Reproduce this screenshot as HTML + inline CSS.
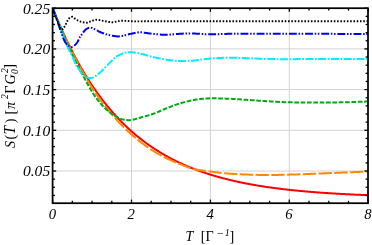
<!DOCTYPE html>
<html><head><meta charset="utf-8"><title>S(T) plot</title>
<style>html,body{margin:0;padding:0;background:#fff;overflow:hidden}svg{display:block;will-change:transform;transform:translateZ(0)}text{font-family:"Liberation Serif","DejaVu Serif",serif;fill:#000}</style></head><body>
<svg width="372" height="245" viewBox="0 0 372 245">
<rect width="372" height="245" fill="#fff"/>
<g stroke="#d2d2d2" stroke-width="1" fill="none"><line x1="131.50" y1="8.2" x2="131.50" y2="203.2"/><line x1="210.40" y1="8.2" x2="210.40" y2="203.2"/><line x1="289.30" y1="8.2" x2="289.30" y2="203.2"/><line x1="52.6" y1="171.00" x2="368.0" y2="171.00"/><line x1="52.6" y1="130.30" x2="368.0" y2="130.30"/><line x1="52.6" y1="89.60" x2="368.0" y2="89.60"/><line x1="52.6" y1="48.90" x2="368.0" y2="48.90"/></g>
<clipPath id="c"><rect x="52.6" y="8.2" width="315.4" height="195.0"/></clipPath>
<g clip-path="url(#c)" fill="none" stroke-linejoin="round">
<path d="M52.60,7.95 L53.10,9.21 L53.60,10.46 L54.10,11.70 L54.60,12.93 L55.10,14.15 L55.60,15.36 L56.10,16.57 L56.60,17.77 L57.10,18.96 L57.60,20.15 L58.10,21.32 L58.60,22.49 L59.10,23.65 L59.60,24.80 L60.10,25.95 L60.60,27.09 L61.10,28.22 L61.60,29.34 L62.10,30.45 L62.60,31.56 L63.10,32.66 L63.60,33.76 L64.10,34.84 L64.60,35.92 L65.10,36.99 L65.60,38.06 L66.10,39.11 L66.60,40.16 L67.10,41.21 L67.60,42.24 L68.10,43.28 L68.60,44.30 L69.10,45.32 L69.60,46.32 L70.10,47.33 L70.60,48.32 L71.10,49.31 L71.60,50.29 L72.10,51.27 L72.60,52.24 L73.10,53.20 L73.60,54.16 L74.10,55.11 L74.60,56.06 L75.10,57.00 L75.60,57.93 L76.10,58.86 L76.60,59.78 L77.10,60.69 L77.60,61.60 L78.10,62.50 L78.60,63.39 L79.10,64.28 L79.60,65.17 L80.10,66.05 L80.60,66.92 L81.10,67.79 L81.60,68.65 L82.10,69.50 L82.60,70.35 L83.10,71.20 L83.60,72.04 L84.10,72.87 L84.60,73.70 L85.10,74.52 L85.60,75.33 L86.10,76.15 L86.60,76.95 L87.10,77.75 L87.60,78.55 L88.10,79.34 L88.60,80.12 L89.10,80.90 L89.60,81.68 L90.10,82.44 L90.60,83.21 L91.10,83.97 L91.60,84.72 L92.10,85.47 L92.60,86.21 L93.10,86.95 L93.60,87.69 L94.10,88.42 L94.60,89.14 L95.10,89.86 L95.60,90.58 L96.10,91.29 L96.60,91.99 L97.10,92.69 L97.60,93.39 L98.10,94.08 L98.60,94.77 L99.10,95.45 L99.60,96.13 L100.10,96.80 L100.60,97.47 L101.10,98.14 L101.60,98.80 L102.10,99.46 L102.60,100.11 L103.10,100.75 L103.60,101.40 L104.10,102.04 L104.60,102.67 L105.10,103.30 L105.60,103.93 L106.10,104.55 L106.60,105.17 L107.10,105.78 L107.60,106.39 L108.10,107.00 L108.60,107.60 L109.10,108.20 L109.60,108.79 L110.10,109.38 L110.60,109.97 L111.10,110.55 L111.60,111.13 L112.10,111.70 L112.60,112.27 L113.10,112.84 L113.60,113.40 L114.10,113.96 L114.60,114.52 L115.10,115.07 L115.60,115.62 L116.10,116.17 L116.60,116.71 L117.10,117.25 L117.60,117.78 L118.10,118.31 L118.60,118.84 L119.10,119.36 L119.60,119.88 L120.10,120.40 L120.60,120.91 L121.10,121.42 L121.60,121.92 L122.10,122.43 L122.60,122.93 L123.10,123.42 L123.60,123.92 L124.10,124.41 L124.60,124.90 L125.10,125.38 L125.60,125.86 L126.10,126.34 L126.60,126.81 L127.10,127.28 L127.60,127.75 L128.10,128.22 L128.60,128.68 L129.10,129.14 L129.60,129.60 L130.10,130.05 L130.60,130.50 L131.10,130.94 L131.60,131.38 L132.10,131.82 L132.60,132.26 L133.10,132.69 L133.60,133.12 L134.10,133.55 L134.60,133.98 L135.10,134.40 L135.60,134.83 L136.10,135.25 L136.60,135.66 L137.10,136.08 L137.60,136.49 L138.10,136.89 L138.60,137.30 L139.10,137.70 L139.60,138.10 L140.10,138.49 L140.60,138.88 L141.10,139.27 L141.60,139.66 L142.10,140.05 L142.60,140.43 L143.10,140.81 L143.60,141.19 L144.10,141.57 L144.60,141.94 L145.10,142.31 L145.60,142.68 L146.10,143.05 L146.60,143.41 L147.10,143.77 L147.60,144.13 L148.10,144.49 L148.60,144.84 L149.10,145.20 L149.60,145.55 L150.10,145.89 L150.60,146.24 L151.10,146.58 L151.60,146.92 L152.10,147.26 L152.60,147.59 L153.10,147.93 L153.60,148.26 L154.10,148.59 L154.60,148.92 L155.10,149.24 L155.60,149.56 L156.10,149.88 L156.60,150.20 L157.10,150.52 L157.60,150.83 L158.10,151.15 L158.60,151.46 L159.10,151.76 L159.60,152.07 L160.10,152.37 L160.60,152.68 L161.10,152.98 L161.60,153.27 L162.10,153.57 L162.60,153.86 L163.10,154.16 L163.60,154.45 L164.10,154.73 L164.60,155.02 L165.10,155.31 L165.60,155.59 L166.10,155.87 L166.60,156.15 L167.10,156.43 L167.60,156.70 L168.10,156.97 L168.60,157.25 L169.10,157.52 L169.60,157.78 L170.10,158.05 L170.60,158.31 L171.10,158.58 L171.60,158.84 L172.10,159.10 L172.60,159.35 L173.10,159.61 L173.60,159.86 L174.10,160.12 L174.60,160.37 L175.10,160.62 L175.60,160.87 L176.10,161.11 L176.60,161.36 L177.10,161.60 L177.60,161.84 L178.10,162.08 L178.60,162.32 L179.10,162.55 L179.60,162.79 L180.10,163.02 L180.60,163.25 L181.10,163.48 L181.60,163.71 L182.10,163.94 L182.60,164.16 L183.10,164.39 L183.60,164.61 L184.10,164.83 L184.60,165.05 L185.10,165.27 L185.60,165.49 L186.10,165.70 L186.60,165.92 L187.10,166.13 L187.60,166.34 L188.10,166.55 L188.60,166.76 L189.10,166.96 L189.60,167.17 L190.10,167.37 L190.60,167.58 L191.10,167.78 L191.60,167.98 L192.10,168.18 L192.60,168.37 L193.10,168.57 L193.60,168.77 L194.10,168.96 L194.60,169.15 L195.10,169.34 L195.60,169.53 L196.10,169.72 L196.60,169.91 L197.10,170.10 L197.60,170.28 L198.10,170.47 L198.60,170.65 L199.10,170.83 L199.60,171.01 L200.10,171.19 L200.60,171.36 L201.10,171.54 L201.60,171.72 L202.10,171.89 L202.60,172.07 L203.10,172.24 L203.60,172.41 L204.10,172.58 L204.60,172.75 L205.10,172.92 L205.60,173.08 L206.10,173.25 L206.60,173.41 L207.10,173.58 L207.60,173.74 L208.10,173.90 L208.60,174.06 L209.10,174.22 L209.60,174.37 L210.10,174.53 L210.60,174.68 L211.10,174.83 L211.60,174.99 L212.10,175.14 L212.60,175.29 L213.10,175.44 L213.60,175.59 L214.10,175.74 L214.60,175.89 L215.10,176.03 L215.60,176.18 L216.10,176.33 L216.60,176.47 L217.10,176.61 L217.60,176.76 L218.10,176.90 L218.60,177.04 L219.10,177.18 L219.60,177.32 L220.10,177.46 L220.60,177.59 L221.10,177.73 L221.60,177.86 L222.10,178.00 L222.60,178.13 L223.10,178.26 L223.60,178.39 L224.10,178.52 L224.60,178.65 L225.10,178.77 L225.60,178.90 L226.10,179.03 L226.60,179.15 L227.10,179.27 L227.60,179.40 L228.10,179.52 L228.60,179.64 L229.10,179.76 L229.60,179.88 L230.10,180.00 L230.60,180.12 L231.10,180.24 L231.60,180.36 L232.10,180.48 L232.60,180.59 L233.10,180.71 L233.60,180.82 L234.10,180.94 L234.60,181.05 L235.10,181.17 L235.60,181.28 L236.10,181.39 L236.60,181.50 L237.10,181.61 L237.60,181.72 L238.10,181.83 L238.60,181.94 L239.10,182.04 L239.60,182.15 L240.10,182.26 L240.60,182.36 L241.10,182.47 L241.60,182.57 L242.10,182.67 L242.60,182.77 L243.10,182.87 L243.60,182.98 L244.10,183.07 L244.60,183.17 L245.10,183.27 L245.60,183.37 L246.10,183.47 L246.60,183.56 L247.10,183.66 L247.60,183.75 L248.10,183.85 L248.60,183.94 L249.10,184.04 L249.60,184.13 L250.10,184.22 L250.60,184.31 L251.10,184.40 L251.60,184.50 L252.10,184.59 L252.60,184.67 L253.10,184.76 L253.60,184.85 L254.10,184.94 L254.60,185.03 L255.10,185.11 L255.60,185.20 L256.10,185.29 L256.60,185.37 L257.10,185.46 L257.60,185.54 L258.10,185.62 L258.60,185.71 L259.10,185.79 L259.60,185.87 L260.10,185.95 L260.60,186.03 L261.10,186.11 L261.60,186.19 L262.10,186.27 L262.60,186.34 L263.10,186.42 L263.60,186.50 L264.10,186.57 L264.60,186.65 L265.10,186.72 L265.60,186.79 L266.10,186.87 L266.60,186.94 L267.10,187.01 L267.60,187.09 L268.10,187.16 L268.60,187.23 L269.10,187.30 L269.60,187.37 L270.10,187.44 L270.60,187.51 L271.10,187.58 L271.60,187.65 L272.10,187.72 L272.60,187.79 L273.10,187.85 L273.60,187.92 L274.10,187.99 L274.60,188.05 L275.10,188.12 L275.60,188.19 L276.10,188.25 L276.60,188.32 L277.10,188.38 L277.60,188.45 L278.10,188.51 L278.60,188.57 L279.10,188.64 L279.60,188.70 L280.10,188.76 L280.60,188.82 L281.10,188.89 L281.60,188.95 L282.10,189.01 L282.60,189.07 L283.10,189.13 L283.60,189.19 L284.10,189.25 L284.60,189.30 L285.10,189.36 L285.60,189.42 L286.10,189.48 L286.60,189.54 L287.10,189.59 L287.60,189.65 L288.10,189.71 L288.60,189.76 L289.10,189.82 L289.60,189.87 L290.10,189.93 L290.60,189.98 L291.10,190.03 L291.60,190.09 L292.10,190.14 L292.60,190.19 L293.10,190.24 L293.60,190.30 L294.10,190.35 L294.60,190.40 L295.10,190.45 L295.60,190.50 L296.10,190.55 L296.60,190.60 L297.10,190.65 L297.60,190.70 L298.10,190.75 L298.60,190.79 L299.10,190.84 L299.60,190.89 L300.10,190.94 L300.60,190.98 L301.10,191.03 L301.60,191.08 L302.10,191.12 L302.60,191.17 L303.10,191.22 L303.60,191.26 L304.10,191.31 L304.60,191.35 L305.10,191.39 L305.60,191.44 L306.10,191.48 L306.60,191.53 L307.10,191.57 L307.60,191.61 L308.10,191.66 L308.60,191.70 L309.10,191.74 L309.60,191.78 L310.10,191.82 L310.60,191.87 L311.10,191.91 L311.60,191.95 L312.10,191.99 L312.60,192.03 L313.10,192.07 L313.60,192.11 L314.10,192.15 L314.60,192.19 L315.10,192.23 L315.60,192.27 L316.10,192.31 L316.60,192.34 L317.10,192.38 L317.60,192.42 L318.10,192.46 L318.60,192.49 L319.10,192.53 L319.60,192.57 L320.10,192.60 L320.60,192.64 L321.10,192.68 L321.60,192.71 L322.10,192.75 L322.60,192.78 L323.10,192.82 L323.60,192.85 L324.10,192.88 L324.60,192.92 L325.10,192.95 L325.60,192.99 L326.10,193.02 L326.60,193.05 L327.10,193.08 L327.60,193.12 L328.10,193.15 L328.60,193.18 L329.10,193.21 L329.60,193.25 L330.10,193.28 L330.60,193.31 L331.10,193.34 L331.60,193.37 L332.10,193.40 L332.60,193.44 L333.10,193.47 L333.60,193.50 L334.10,193.53 L334.60,193.56 L335.10,193.59 L335.60,193.62 L336.10,193.65 L336.60,193.68 L337.10,193.71 L337.60,193.73 L338.10,193.76 L338.60,193.79 L339.10,193.82 L339.60,193.85 L340.10,193.88 L340.60,193.90 L341.10,193.93 L341.60,193.96 L342.10,193.99 L342.60,194.01 L343.10,194.04 L343.60,194.07 L344.10,194.09 L344.60,194.12 L345.10,194.15 L345.60,194.17 L346.10,194.20 L346.60,194.22 L347.10,194.25 L347.60,194.27 L348.10,194.30 L348.60,194.32 L349.10,194.35 L349.60,194.37 L350.10,194.40 L350.60,194.42 L351.10,194.44 L351.60,194.47 L352.10,194.49 L352.60,194.51 L353.10,194.54 L353.60,194.56 L354.10,194.58 L354.60,194.61 L355.10,194.63 L355.60,194.65 L356.10,194.67 L356.60,194.70 L357.10,194.72 L357.60,194.74 L358.10,194.76 L358.60,194.78 L359.10,194.81 L359.60,194.83 L360.10,194.85 L360.60,194.87 L361.10,194.89 L361.60,194.91 L362.10,194.94 L362.60,194.96 L363.10,194.98 L363.60,195.00 L364.10,195.02 L364.60,195.04 L365.10,195.06 L365.60,195.08 L366.10,195.10 L366.60,195.12 L367.10,195.14 L367.60,195.16 L368.10,195.18 L368.20,195.18" stroke="#ff0000" stroke-width="2.0"/>
<path d="M52.60,7.95 L53.10,9.21 L53.60,10.47 L54.10,11.72 L54.60,12.97 L55.10,14.21 L55.60,15.44 L56.10,16.66 L56.60,17.88 L57.10,19.08 L57.60,20.28 L58.10,21.48 L58.60,22.66 L59.10,23.83 L59.60,25.00 L60.10,26.15 L60.60,27.30 L61.10,28.44 L61.60,29.58 L62.10,30.71 L62.60,31.83 L63.10,32.95 L63.60,34.06 L64.10,35.17 L64.60,36.27 L65.10,37.36 L65.60,38.45 L66.10,39.53 L66.60,40.60 L67.10,41.67 L67.60,42.73 L68.10,43.78 L68.60,44.83 L69.10,45.87 L69.60,46.90 L70.10,47.93 L70.60,48.95 L71.10,49.97 L71.60,50.98 L72.10,51.98 L72.60,52.98 L73.10,53.97 L73.60,54.95 L74.10,55.93 L74.60,56.91 L75.10,57.87 L75.60,58.84 L76.10,59.79 L76.60,60.74 L77.10,61.69 L77.60,62.63 L78.10,63.57 L78.60,64.50 L79.10,65.42 L79.60,66.34 L80.10,67.25 L80.60,68.17 L81.10,69.07 L81.60,69.98 L82.10,70.88 L82.60,71.78 L83.10,72.68 L83.60,73.57 L84.10,74.46 L84.60,75.34 L85.10,76.22 L85.60,77.09 L86.10,77.96 L86.60,78.82 L87.10,79.68 L87.60,80.53 L88.10,81.37 L88.60,82.20 L89.10,83.03 L89.60,83.85 L90.10,84.66 L90.60,85.46 L91.10,86.25 L91.60,87.03 L92.10,87.81 L92.60,88.58 L93.10,89.35 L93.60,90.11 L94.10,90.86 L94.60,91.61 L95.10,92.35 L95.60,93.09 L96.10,93.82 L96.60,94.54 L97.10,95.27 L97.60,95.98 L98.10,96.69 L98.60,97.40 L99.10,98.10 L99.60,98.79 L100.10,99.48 L100.60,100.17 L101.10,100.85 L101.60,101.53 L102.10,102.20 L102.60,102.87 L103.10,103.53 L103.60,104.19 L104.10,104.84 L104.60,105.49 L105.10,106.13 L105.60,106.77 L106.10,107.40 L106.60,108.03 L107.10,108.66 L107.60,109.28 L108.10,109.89 L108.60,110.50 L109.10,111.11 L109.60,111.71 L110.10,112.31 L110.60,112.90 L111.10,113.49 L111.60,114.08 L112.10,114.66 L112.60,115.24 L113.10,115.81 L113.60,116.38 L114.10,116.95 L114.60,117.51 L115.10,118.07 L115.60,118.63 L116.10,119.18 L116.60,119.74 L117.10,120.28 L117.60,120.83 L118.10,121.37 L118.60,121.91 L119.10,122.44 L119.60,122.97 L120.10,123.50 L120.60,124.02 L121.10,124.54 L121.60,125.06 L122.10,125.57 L122.60,126.08 L123.10,126.59 L123.60,127.09 L124.10,127.59 L124.60,128.08 L125.10,128.57 L125.60,129.06 L126.10,129.54 L126.60,130.02 L127.10,130.49 L127.60,130.96 L128.10,131.43 L128.60,131.90 L129.10,132.36 L129.60,132.82 L130.10,133.27 L130.60,133.72 L131.10,134.17 L131.60,134.62 L132.10,135.06 L132.60,135.49 L133.10,135.93 L133.60,136.36 L134.10,136.78 L134.60,137.20 L135.10,137.62 L135.60,138.04 L136.10,138.45 L136.60,138.85 L137.10,139.26 L137.60,139.66 L138.10,140.06 L138.60,140.46 L139.10,140.86 L139.60,141.25 L140.10,141.64 L140.60,142.03 L141.10,142.42 L141.60,142.80 L142.10,143.18 L142.60,143.56 L143.10,143.94 L143.60,144.31 L144.10,144.68 L144.60,145.05 L145.10,145.41 L145.60,145.78 L146.10,146.13 L146.60,146.49 L147.10,146.84 L147.60,147.19 L148.10,147.54 L148.60,147.88 L149.10,148.22 L149.60,148.56 L150.10,148.89 L150.60,149.22 L151.10,149.54 L151.60,149.86 L152.10,150.18 L152.60,150.50 L153.10,150.81 L153.60,151.11 L154.10,151.42 L154.60,151.72 L155.10,152.01 L155.60,152.31 L156.10,152.60 L156.60,152.89 L157.10,153.17 L157.60,153.46 L158.10,153.74 L158.60,154.02 L159.10,154.30 L159.60,154.57 L160.10,154.85 L160.60,155.12 L161.10,155.40 L161.60,155.67 L162.10,155.94 L162.60,156.20 L163.10,156.47 L163.60,156.73 L164.10,156.99 L164.60,157.25 L165.10,157.51 L165.60,157.76 L166.10,158.01 L166.60,158.26 L167.10,158.51 L167.60,158.76 L168.10,159.00 L168.60,159.24 L169.10,159.48 L169.60,159.71 L170.10,159.94 L170.60,160.17 L171.10,160.40 L171.60,160.62 L172.10,160.85 L172.60,161.07 L173.10,161.29 L173.60,161.50 L174.10,161.72 L174.60,161.93 L175.10,162.14 L175.60,162.35 L176.10,162.55 L176.60,162.76 L177.10,162.96 L177.60,163.16 L178.10,163.36 L178.60,163.56 L179.10,163.75 L179.60,163.95 L180.10,164.14 L180.60,164.33 L181.10,164.53 L181.60,164.73 L182.10,164.93 L182.60,165.13 L183.10,165.33 L183.60,165.53 L184.10,165.73 L184.60,165.93 L185.10,166.13 L185.60,166.33 L186.10,166.53 L186.60,166.73 L187.10,166.92 L187.60,167.11 L188.10,167.29 L188.60,167.48 L189.10,167.66 L189.60,167.83 L190.10,168.00 L190.60,168.17 L191.10,168.33 L191.60,168.48 L192.10,168.63 L192.60,168.77 L193.10,168.90 L193.60,169.03 L194.10,169.15 L194.60,169.26 L195.10,169.36 L195.60,169.46 L196.10,169.56 L196.60,169.65 L197.10,169.74 L197.60,169.82 L198.10,169.91 L198.60,169.99 L199.10,170.07 L199.60,170.15 L200.10,170.22 L200.60,170.29 L201.10,170.36 L201.60,170.43 L202.10,170.50 L202.60,170.57 L203.10,170.63 L203.60,170.70 L204.10,170.76 L204.60,170.82 L205.10,170.89 L205.60,170.95 L206.10,171.01 L206.60,171.07 L207.10,171.13 L207.60,171.20 L208.10,171.26 L208.60,171.32 L209.10,171.38 L209.60,171.45 L210.10,171.51 L210.60,171.58 L211.10,171.65 L211.60,171.71 L212.10,171.78 L212.60,171.85 L213.10,171.91 L213.60,171.98 L214.10,172.05 L214.60,172.11 L215.10,172.18 L215.60,172.25 L216.10,172.31 L216.60,172.38 L217.10,172.44 L217.60,172.51 L218.10,172.57 L218.60,172.63 L219.10,172.69 L219.60,172.75 L220.10,172.81 L220.60,172.87 L221.10,172.92 L221.60,172.98 L222.10,173.03 L222.60,173.08 L223.10,173.13 L223.60,173.18 L224.10,173.22 L224.60,173.27 L225.10,173.31 L225.60,173.35 L226.10,173.39 L226.60,173.43 L227.10,173.47 L227.60,173.51 L228.10,173.54 L228.60,173.58 L229.10,173.62 L229.60,173.66 L230.10,173.69 L230.60,173.73 L231.10,173.76 L231.60,173.80 L232.10,173.83 L232.60,173.87 L233.10,173.90 L233.60,173.93 L234.10,173.97 L234.60,174.00 L235.10,174.03 L235.60,174.06 L236.10,174.09 L236.60,174.12 L237.10,174.15 L237.60,174.17 L238.10,174.20 L238.60,174.23 L239.10,174.25 L239.60,174.28 L240.10,174.30 L240.60,174.33 L241.10,174.35 L241.60,174.37 L242.10,174.39 L242.60,174.41 L243.10,174.43 L243.60,174.45 L244.10,174.47 L244.60,174.49 L245.10,174.50 L245.60,174.52 L246.10,174.54 L246.60,174.55 L247.10,174.57 L247.60,174.58 L248.10,174.60 L248.60,174.62 L249.10,174.63 L249.60,174.65 L250.10,174.66 L250.60,174.68 L251.10,174.69 L251.60,174.71 L252.10,174.72 L252.60,174.74 L253.10,174.75 L253.60,174.77 L254.10,174.78 L254.60,174.79 L255.10,174.81 L255.60,174.82 L256.10,174.83 L256.60,174.85 L257.10,174.86 L257.60,174.87 L258.10,174.88 L258.60,174.89 L259.10,174.90 L259.60,174.91 L260.10,174.92 L260.60,174.93 L261.10,174.94 L261.60,174.95 L262.10,174.95 L262.60,174.96 L263.10,174.97 L263.60,174.97 L264.10,174.98 L264.60,174.98 L265.10,174.99 L265.60,174.99 L266.10,174.99 L266.60,175.00 L267.10,175.00 L267.60,175.00 L268.10,175.00 L268.60,175.00 L269.10,175.00 L269.60,175.00 L270.10,174.99 L270.60,174.99 L271.10,174.99 L271.60,174.98 L272.10,174.98 L272.60,174.97 L273.10,174.97 L273.60,174.96 L274.10,174.95 L274.60,174.95 L275.10,174.94 L275.60,174.93 L276.10,174.92 L276.60,174.91 L277.10,174.90 L277.60,174.89 L278.10,174.88 L278.60,174.87 L279.10,174.86 L279.60,174.85 L280.10,174.84 L280.60,174.83 L281.10,174.82 L281.60,174.81 L282.10,174.79 L282.60,174.78 L283.10,174.77 L283.60,174.76 L284.10,174.75 L284.60,174.73 L285.10,174.72 L285.60,174.71 L286.10,174.70 L286.60,174.68 L287.10,174.67 L287.60,174.66 L288.10,174.65 L288.60,174.63 L289.10,174.62 L289.60,174.61 L290.10,174.60 L290.60,174.59 L291.10,174.57 L291.60,174.56 L292.10,174.55 L292.60,174.53 L293.10,174.52 L293.60,174.51 L294.10,174.49 L294.60,174.48 L295.10,174.46 L295.60,174.45 L296.10,174.43 L296.60,174.41 L297.10,174.40 L297.60,174.38 L298.10,174.37 L298.60,174.35 L299.10,174.33 L299.60,174.31 L300.10,174.30 L300.60,174.28 L301.10,174.26 L301.60,174.24 L302.10,174.23 L302.60,174.21 L303.10,174.19 L303.60,174.17 L304.10,174.15 L304.60,174.13 L305.10,174.11 L305.60,174.09 L306.10,174.07 L306.60,174.05 L307.10,174.03 L307.60,174.01 L308.10,173.99 L308.60,173.97 L309.10,173.95 L309.60,173.93 L310.10,173.91 L310.60,173.89 L311.10,173.87 L311.60,173.85 L312.10,173.83 L312.60,173.81 L313.10,173.79 L313.60,173.77 L314.10,173.75 L314.60,173.73 L315.10,173.70 L315.60,173.68 L316.10,173.66 L316.60,173.64 L317.10,173.62 L317.60,173.60 L318.10,173.58 L318.60,173.56 L319.10,173.54 L319.60,173.52 L320.10,173.50 L320.60,173.48 L321.10,173.46 L321.60,173.44 L322.10,173.42 L322.60,173.40 L323.10,173.38 L323.60,173.36 L324.10,173.34 L324.60,173.32 L325.10,173.30 L325.60,173.28 L326.10,173.26 L326.60,173.24 L327.10,173.22 L327.60,173.20 L328.10,173.18 L328.60,173.16 L329.10,173.14 L329.60,173.12 L330.10,173.10 L330.60,173.08 L331.10,173.06 L331.60,173.04 L332.10,173.02 L332.60,173.00 L333.10,172.98 L333.60,172.96 L334.10,172.94 L334.60,172.92 L335.10,172.90 L335.60,172.88 L336.10,172.86 L336.60,172.84 L337.10,172.82 L337.60,172.80 L338.10,172.78 L338.60,172.76 L339.10,172.74 L339.60,172.72 L340.10,172.70 L340.60,172.68 L341.10,172.66 L341.60,172.64 L342.10,172.61 L342.60,172.59 L343.10,172.57 L343.60,172.55 L344.10,172.53 L344.60,172.51 L345.10,172.49 L345.60,172.47 L346.10,172.45 L346.60,172.43 L347.10,172.41 L347.60,172.39 L348.10,172.37 L348.60,172.35 L349.10,172.32 L349.60,172.30 L350.10,172.28 L350.60,172.26 L351.10,172.24 L351.60,172.22 L352.10,172.20 L352.60,172.18 L353.10,172.16 L353.60,172.14 L354.10,172.11 L354.60,172.09 L355.10,172.07 L355.60,172.05 L356.10,172.03 L356.60,172.01 L357.10,171.99 L357.60,171.96 L358.10,171.94 L358.60,171.92 L359.10,171.90 L359.60,171.88 L360.10,171.86 L360.60,171.84 L361.10,171.81 L361.60,171.79 L362.10,171.77 L362.60,171.75 L363.10,171.73 L363.60,171.71 L364.10,171.68 L364.60,171.66 L365.10,171.64 L365.60,171.62 L366.10,171.60 L366.60,171.57 L367.10,171.55 L367.60,171.53 L368.10,171.50 L368.20,171.50" stroke="#ff8800" stroke-width="2.0" stroke-dasharray="13.3 2.45" stroke-dashoffset="14.8"/>
<path d="M52.60,7.95 L53.10,9.22 L53.60,10.48 L54.10,11.74 L54.60,12.99 L55.10,14.24 L55.60,15.49 L56.10,16.73 L56.60,17.97 L57.10,19.21 L57.60,20.45 L58.10,21.68 L58.60,22.90 L59.10,24.13 L59.60,25.35 L60.10,26.56 L60.60,27.78 L61.10,29.00 L61.60,30.21 L62.10,31.43 L62.60,32.64 L63.10,33.84 L63.60,35.04 L64.10,36.24 L64.60,37.43 L65.10,38.61 L65.60,39.78 L66.10,40.94 L66.60,42.09 L67.10,43.23 L67.60,44.36 L68.10,45.48 L68.60,46.60 L69.10,47.71 L69.60,48.82 L70.10,49.92 L70.60,51.02 L71.10,52.10 L71.60,53.18 L72.10,54.26 L72.60,55.32 L73.10,56.38 L73.60,57.43 L74.10,58.47 L74.60,59.50 L75.10,60.52 L75.60,61.53 L76.10,62.53 L76.60,63.52 L77.10,64.51 L77.60,65.48 L78.10,66.44 L78.60,67.40 L79.10,68.35 L79.60,69.30 L80.10,70.24 L80.60,71.17 L81.10,72.10 L81.60,73.03 L82.10,73.95 L82.60,74.87 L83.10,75.79 L83.60,76.71 L84.10,77.62 L84.60,78.54 L85.10,79.46 L85.60,80.38 L86.10,81.30 L86.60,82.22 L87.10,83.13 L87.60,84.04 L88.10,84.95 L88.60,85.85 L89.10,86.73 L89.60,87.60 L90.10,88.46 L90.60,89.31 L91.10,90.15 L91.60,90.98 L92.10,91.80 L92.60,92.60 L93.10,93.39 L93.60,94.17 L94.10,94.92 L94.60,95.66 L95.10,96.39 L95.60,97.10 L96.10,97.80 L96.60,98.49 L97.10,99.17 L97.60,99.83 L98.10,100.47 L98.60,101.11 L99.10,101.74 L99.60,102.35 L100.10,102.95 L100.60,103.54 L101.10,104.12 L101.60,104.68 L102.10,105.23 L102.60,105.77 L103.10,106.29 L103.60,106.81 L104.10,107.31 L104.60,107.80 L105.10,108.29 L105.60,108.76 L106.10,109.22 L106.60,109.67 L107.10,110.11 L107.60,110.53 L108.10,110.95 L108.60,111.36 L109.10,111.76 L109.60,112.16 L110.10,112.54 L110.60,112.92 L111.10,113.31 L111.60,113.69 L112.10,114.06 L112.60,114.43 L113.10,114.78 L113.60,115.12 L114.10,115.45 L114.60,115.76 L115.10,116.06 L115.60,116.35 L116.10,116.64 L116.60,116.93 L117.10,117.21 L117.60,117.49 L118.10,117.76 L118.60,118.02 L119.10,118.27 L119.60,118.50 L120.10,118.71 L120.60,118.90 L121.10,119.07 L121.60,119.21 L122.10,119.32 L122.60,119.42 L123.10,119.52 L123.60,119.61 L124.10,119.70 L124.60,119.79 L125.10,119.87 L125.60,119.94 L126.10,120.01 L126.60,120.06 L127.10,120.11 L127.60,120.15 L128.10,120.18 L128.60,120.20 L129.10,120.20 L129.60,120.19 L130.10,120.16 L130.60,120.11 L131.10,120.04 L131.60,119.97 L132.10,119.88 L132.60,119.78 L133.10,119.66 L133.60,119.54 L134.10,119.41 L134.60,119.28 L135.10,119.13 L135.60,118.99 L136.10,118.84 L136.60,118.69 L137.10,118.53 L137.60,118.38 L138.10,118.23 L138.60,118.09 L139.10,117.94 L139.60,117.81 L140.10,117.67 L140.60,117.55 L141.10,117.42 L141.60,117.28 L142.10,117.15 L142.60,117.02 L143.10,116.88 L143.60,116.75 L144.10,116.61 L144.60,116.47 L145.10,116.33 L145.60,116.19 L146.10,116.05 L146.60,115.91 L147.10,115.76 L147.60,115.61 L148.10,115.47 L148.60,115.31 L149.10,115.16 L149.60,115.01 L150.10,114.85 L150.60,114.69 L151.10,114.53 L151.60,114.37 L152.10,114.20 L152.60,114.04 L153.10,113.87 L153.60,113.69 L154.10,113.52 L154.60,113.34 L155.10,113.16 L155.60,112.98 L156.10,112.78 L156.60,112.58 L157.10,112.36 L157.60,112.15 L158.10,111.92 L158.60,111.70 L159.10,111.47 L159.60,111.24 L160.10,111.01 L160.60,110.77 L161.10,110.54 L161.60,110.31 L162.10,110.09 L162.60,109.87 L163.10,109.65 L163.60,109.44 L164.10,109.24 L164.60,109.04 L165.10,108.85 L165.60,108.65 L166.10,108.45 L166.60,108.26 L167.10,108.06 L167.60,107.86 L168.10,107.67 L168.60,107.47 L169.10,107.28 L169.60,107.08 L170.10,106.89 L170.60,106.70 L171.10,106.51 L171.60,106.32 L172.10,106.13 L172.60,105.94 L173.10,105.76 L173.60,105.57 L174.10,105.39 L174.60,105.21 L175.10,105.03 L175.60,104.86 L176.10,104.68 L176.60,104.51 L177.10,104.34 L177.60,104.17 L178.10,104.01 L178.60,103.85 L179.10,103.69 L179.60,103.53 L180.10,103.38 L180.60,103.23 L181.10,103.08 L181.60,102.94 L182.10,102.80 L182.60,102.66 L183.10,102.53 L183.60,102.40 L184.10,102.27 L184.60,102.15 L185.10,102.02 L185.60,101.89 L186.10,101.77 L186.60,101.64 L187.10,101.51 L187.60,101.39 L188.10,101.27 L188.60,101.14 L189.10,101.02 L189.60,100.90 L190.10,100.79 L190.60,100.67 L191.10,100.56 L191.60,100.45 L192.10,100.34 L192.60,100.23 L193.10,100.13 L193.60,100.02 L194.10,99.93 L194.60,99.83 L195.10,99.74 L195.60,99.65 L196.10,99.57 L196.60,99.48 L197.10,99.41 L197.60,99.33 L198.10,99.27 L198.60,99.20 L199.10,99.14 L199.60,99.09 L200.10,99.04 L200.60,98.99 L201.10,98.95 L201.60,98.90 L202.10,98.86 L202.60,98.82 L203.10,98.78 L203.60,98.74 L204.10,98.70 L204.60,98.66 L205.10,98.62 L205.60,98.58 L206.10,98.55 L206.60,98.51 L207.10,98.48 L207.60,98.45 L208.10,98.43 L208.60,98.40 L209.10,98.38 L209.60,98.36 L210.10,98.34 L210.60,98.33 L211.10,98.32 L211.60,98.31 L212.10,98.30 L212.60,98.30 L213.10,98.30 L213.60,98.30 L214.10,98.31 L214.60,98.31 L215.10,98.32 L215.60,98.32 L216.10,98.33 L216.60,98.34 L217.10,98.35 L217.60,98.36 L218.10,98.37 L218.60,98.39 L219.10,98.40 L219.60,98.41 L220.10,98.43 L220.60,98.44 L221.10,98.46 L221.60,98.48 L222.10,98.49 L222.60,98.51 L223.10,98.53 L223.60,98.55 L224.10,98.57 L224.60,98.59 L225.10,98.61 L225.60,98.63 L226.10,98.65 L226.60,98.67 L227.10,98.69 L227.60,98.71 L228.10,98.73 L228.60,98.75 L229.10,98.76 L229.60,98.78 L230.10,98.80 L230.60,98.82 L231.10,98.84 L231.60,98.87 L232.10,98.89 L232.60,98.91 L233.10,98.94 L233.60,98.96 L234.10,98.99 L234.60,99.02 L235.10,99.04 L235.60,99.07 L236.10,99.10 L236.60,99.13 L237.10,99.16 L237.60,99.19 L238.10,99.22 L238.60,99.25 L239.10,99.29 L239.60,99.32 L240.10,99.35 L240.60,99.39 L241.10,99.42 L241.60,99.46 L242.10,99.49 L242.60,99.53 L243.10,99.56 L243.60,99.60 L244.10,99.63 L244.60,99.67 L245.10,99.71 L245.60,99.74 L246.10,99.78 L246.60,99.82 L247.10,99.85 L247.60,99.89 L248.10,99.93 L248.60,99.97 L249.10,100.00 L249.60,100.04 L250.10,100.08 L250.60,100.11 L251.10,100.15 L251.60,100.19 L252.10,100.22 L252.60,100.26 L253.10,100.30 L253.60,100.33 L254.10,100.37 L254.60,100.40 L255.10,100.44 L255.60,100.47 L256.10,100.50 L256.60,100.54 L257.10,100.57 L257.60,100.60 L258.10,100.63 L258.60,100.67 L259.10,100.70 L259.60,100.73 L260.10,100.76 L260.60,100.79 L261.10,100.82 L261.60,100.85 L262.10,100.88 L262.60,100.91 L263.10,100.94 L263.60,100.97 L264.10,101.00 L264.60,101.03 L265.10,101.06 L265.60,101.10 L266.10,101.13 L266.60,101.16 L267.10,101.19 L267.60,101.22 L268.10,101.26 L268.60,101.29 L269.10,101.32 L269.60,101.35 L270.10,101.38 L270.60,101.42 L271.10,101.45 L271.60,101.48 L272.10,101.51 L272.60,101.54 L273.10,101.57 L273.60,101.60 L274.10,101.63 L274.60,101.66 L275.10,101.69 L275.60,101.72 L276.10,101.75 L276.60,101.78 L277.10,101.81 L277.60,101.84 L278.10,101.86 L278.60,101.89 L279.10,101.92 L279.60,101.94 L280.10,101.97 L280.60,101.99 L281.10,102.02 L281.60,102.04 L282.10,102.06 L282.60,102.09 L283.10,102.11 L283.60,102.13 L284.10,102.15 L284.60,102.17 L285.10,102.19 L285.60,102.20 L286.10,102.22 L286.60,102.24 L287.10,102.25 L287.60,102.27 L288.10,102.28 L288.60,102.29 L289.10,102.30 L289.60,102.31 L290.10,102.32 L290.60,102.33 L291.10,102.35 L291.60,102.36 L292.10,102.37 L292.60,102.38 L293.10,102.39 L293.60,102.40 L294.10,102.41 L294.60,102.42 L295.10,102.43 L295.60,102.44 L296.10,102.45 L296.60,102.46 L297.10,102.47 L297.60,102.48 L298.10,102.48 L298.60,102.49 L299.10,102.50 L299.60,102.51 L300.10,102.52 L300.60,102.52 L301.10,102.53 L301.60,102.54 L302.10,102.55 L302.60,102.55 L303.10,102.56 L303.60,102.56 L304.10,102.57 L304.60,102.57 L305.10,102.58 L305.60,102.58 L306.10,102.59 L306.60,102.59 L307.10,102.59 L307.60,102.59 L308.10,102.60 L308.60,102.60 L309.10,102.60 L309.60,102.60 L310.10,102.60 L310.60,102.60 L311.10,102.60 L311.60,102.60 L312.10,102.60 L312.60,102.60 L313.10,102.60 L313.60,102.60 L314.10,102.59 L314.60,102.59 L315.10,102.59 L315.60,102.59 L316.10,102.59 L316.60,102.59 L317.10,102.58 L317.60,102.58 L318.10,102.58 L318.60,102.58 L319.10,102.57 L319.60,102.57 L320.10,102.57 L320.60,102.57 L321.10,102.56 L321.60,102.56 L322.10,102.56 L322.60,102.55 L323.10,102.55 L323.60,102.55 L324.10,102.54 L324.60,102.54 L325.10,102.54 L325.60,102.53 L326.10,102.53 L326.60,102.53 L327.10,102.52 L327.60,102.52 L328.10,102.51 L328.60,102.51 L329.10,102.51 L329.60,102.50 L330.10,102.50 L330.60,102.50 L331.10,102.49 L331.60,102.49 L332.10,102.48 L332.60,102.48 L333.10,102.47 L333.60,102.46 L334.10,102.46 L334.60,102.45 L335.10,102.44 L335.60,102.44 L336.10,102.43 L336.60,102.42 L337.10,102.41 L337.60,102.40 L338.10,102.40 L338.60,102.39 L339.10,102.38 L339.60,102.37 L340.10,102.36 L340.60,102.35 L341.10,102.34 L341.60,102.33 L342.10,102.32 L342.60,102.31 L343.10,102.29 L343.60,102.28 L344.10,102.27 L344.60,102.26 L345.10,102.25 L345.60,102.24 L346.10,102.22 L346.60,102.21 L347.10,102.20 L347.60,102.18 L348.10,102.17 L348.60,102.16 L349.10,102.14 L349.60,102.13 L350.10,102.12 L350.60,102.10 L351.10,102.09 L351.60,102.07 L352.10,102.06 L352.60,102.04 L353.10,102.03 L353.60,102.01 L354.10,102.00 L354.60,101.98 L355.10,101.97 L355.60,101.95 L356.10,101.93 L356.60,101.92 L357.10,101.90 L357.60,101.89 L358.10,101.87 L358.60,101.85 L359.10,101.84 L359.60,101.82 L360.10,101.80 L360.60,101.79 L361.10,101.77 L361.60,101.75 L362.10,101.74 L362.60,101.72 L363.10,101.70 L363.60,101.68 L364.10,101.67 L364.60,101.65 L365.10,101.63 L365.60,101.61 L366.10,101.60 L366.60,101.58 L367.10,101.55 L367.60,101.53 L368.10,101.50 L368.20,101.50" stroke="#00aa12" stroke-width="2.0" stroke-dasharray="4.7 1.65" stroke-dashoffset="1.1"/>
<path d="M52.60,7.95 L53.10,9.20 L53.60,10.45 L54.10,11.72 L54.60,12.99 L55.10,14.27 L55.60,15.56 L56.10,16.86 L56.60,18.16 L57.10,19.47 L57.60,20.79 L58.10,22.11 L58.60,23.44 L59.10,24.78 L59.60,26.14 L60.10,27.51 L60.60,28.89 L61.10,30.27 L61.60,31.64 L62.10,33.00 L62.60,34.38 L63.10,35.77 L63.60,37.17 L64.10,38.55 L64.60,39.91 L65.10,41.23 L65.60,42.49 L66.10,43.70 L66.60,44.86 L67.10,45.99 L67.60,47.09 L68.10,48.17 L68.60,49.23 L69.10,50.27 L69.60,51.30 L70.10,52.33 L70.60,53.32 L71.10,54.29 L71.60,55.24 L72.10,56.19 L72.60,57.18 L73.10,58.21 L73.60,59.35 L74.10,60.56 L74.60,61.80 L75.10,63.01 L75.60,64.14 L76.10,65.15 L76.60,65.98 L77.10,66.68 L77.60,67.33 L78.10,67.98 L78.60,68.70 L79.10,69.51 L79.60,70.35 L80.10,71.20 L80.60,72.01 L81.10,72.74 L81.60,73.37 L82.10,73.97 L82.60,74.53 L83.10,75.04 L83.60,75.49 L84.10,75.87 L84.60,76.21 L85.10,76.53 L85.60,76.81 L86.10,77.07 L86.60,77.29 L87.10,77.47 L87.60,77.62 L88.10,77.77 L88.60,77.91 L89.10,78.01 L89.60,78.08 L90.10,78.10 L90.60,78.07 L91.10,77.99 L91.60,77.89 L92.10,77.76 L92.60,77.62 L93.10,77.47 L93.60,77.26 L94.10,76.98 L94.60,76.65 L95.10,76.30 L95.60,75.94 L96.10,75.59 L96.60,75.23 L97.10,74.86 L97.60,74.47 L98.10,74.07 L98.60,73.66 L99.10,73.24 L99.60,72.80 L100.10,72.37 L100.60,71.92 L101.10,71.45 L101.60,70.97 L102.10,70.47 L102.60,69.96 L103.10,69.45 L103.60,68.93 L104.10,68.42 L104.60,67.90 L105.10,67.40 L105.60,66.90 L106.10,66.40 L106.60,65.90 L107.10,65.40 L107.60,64.90 L108.10,64.40 L108.60,63.90 L109.10,63.40 L109.60,62.90 L110.10,62.41 L110.60,61.92 L111.10,61.43 L111.60,60.92 L112.10,60.40 L112.60,59.83 L113.10,59.23 L113.60,58.69 L114.10,58.24 L114.60,57.84 L115.10,57.46 L115.60,57.10 L116.10,56.76 L116.60,56.45 L117.10,56.14 L117.60,55.85 L118.10,55.57 L118.60,55.31 L119.10,55.05 L119.60,54.80 L120.10,54.56 L120.60,54.34 L121.10,54.12 L121.60,53.92 L122.10,53.74 L122.60,53.55 L123.10,53.37 L123.60,53.19 L124.10,53.03 L124.60,52.88 L125.10,52.77 L125.60,52.69 L126.10,52.62 L126.60,52.56 L127.10,52.50 L127.60,52.44 L128.10,52.39 L128.60,52.35 L129.10,52.31 L129.60,52.28 L130.10,52.26 L130.60,52.25 L131.10,52.25 L131.60,52.27 L132.10,52.30 L132.60,52.34 L133.10,52.39 L133.60,52.45 L134.10,52.51 L134.60,52.58 L135.10,52.65 L135.60,52.71 L136.10,52.78 L136.60,52.86 L137.10,52.94 L137.60,53.02 L138.10,53.12 L138.60,53.21 L139.10,53.31 L139.60,53.42 L140.10,53.52 L140.60,53.63 L141.10,53.75 L141.60,53.88 L142.10,54.01 L142.60,54.15 L143.10,54.29 L143.60,54.43 L144.10,54.58 L144.60,54.73 L145.10,54.89 L145.60,55.04 L146.10,55.19 L146.60,55.35 L147.10,55.50 L147.60,55.64 L148.10,55.79 L148.60,55.93 L149.10,56.07 L149.60,56.20 L150.10,56.32 L150.60,56.45 L151.10,56.57 L151.60,56.69 L152.10,56.81 L152.60,56.92 L153.10,57.04 L153.60,57.15 L154.10,57.27 L154.60,57.38 L155.10,57.49 L155.60,57.60 L156.10,57.71 L156.60,57.81 L157.10,57.92 L157.60,58.02 L158.10,58.12 L158.60,58.23 L159.10,58.32 L159.60,58.42 L160.10,58.52 L160.60,58.62 L161.10,58.71 L161.60,58.81 L162.10,58.91 L162.60,59.00 L163.10,59.10 L163.60,59.19 L164.10,59.29 L164.60,59.38 L165.10,59.47 L165.60,59.56 L166.10,59.65 L166.60,59.73 L167.10,59.81 L167.60,59.89 L168.10,59.96 L168.60,60.03 L169.10,60.09 L169.60,60.15 L170.10,60.21 L170.60,60.27 L171.10,60.32 L171.60,60.38 L172.10,60.43 L172.60,60.49 L173.10,60.54 L173.60,60.60 L174.10,60.65 L174.60,60.70 L175.10,60.75 L175.60,60.79 L176.10,60.83 L176.60,60.87 L177.10,60.90 L177.60,60.93 L178.10,60.96 L178.60,60.98 L179.10,60.99 L179.60,61.00 L180.10,61.00 L180.60,61.00 L181.10,61.00 L181.60,60.99 L182.10,60.99 L182.60,60.98 L183.10,60.98 L183.60,60.97 L184.10,60.96 L184.60,60.95 L185.10,60.94 L185.60,60.92 L186.10,60.91 L186.60,60.90 L187.10,60.88 L187.60,60.87 L188.10,60.85 L188.60,60.83 L189.10,60.82 L189.60,60.80 L190.10,60.78 L190.60,60.76 L191.10,60.74 L191.60,60.72 L192.10,60.70 L192.60,60.67 L193.10,60.63 L193.60,60.59 L194.10,60.54 L194.60,60.48 L195.10,60.41 L195.60,60.35 L196.10,60.27 L196.60,60.20 L197.10,60.12 L197.60,60.04 L198.10,59.96 L198.60,59.88 L199.10,59.80 L199.60,59.72 L200.10,59.64 L200.60,59.57 L201.10,59.49 L201.60,59.43 L202.10,59.37 L202.60,59.31 L203.10,59.26 L203.60,59.21 L204.10,59.16 L204.60,59.11 L205.10,59.06 L205.60,59.01 L206.10,58.96 L206.60,58.91 L207.10,58.87 L207.60,58.82 L208.10,58.78 L208.60,58.73 L209.10,58.69 L209.60,58.64 L210.10,58.60 L210.60,58.56 L211.10,58.52 L211.60,58.48 L212.10,58.45 L212.60,58.41 L213.10,58.38 L213.60,58.34 L214.10,58.31 L214.60,58.28 L215.10,58.25 L215.60,58.22 L216.10,58.19 L216.60,58.17 L217.10,58.14 L217.60,58.12 L218.10,58.09 L218.60,58.06 L219.10,58.04 L219.60,58.01 L220.10,57.99 L220.60,57.96 L221.10,57.94 L221.60,57.91 L222.10,57.89 L222.60,57.87 L223.10,57.84 L223.60,57.82 L224.10,57.81 L224.60,57.79 L225.10,57.77 L225.60,57.76 L226.10,57.74 L226.60,57.73 L227.10,57.72 L227.60,57.71 L228.10,57.71 L228.60,57.70 L229.10,57.70 L229.60,57.70 L230.10,57.70 L230.60,57.70 L231.10,57.71 L231.60,57.71 L232.10,57.72 L232.60,57.73 L233.10,57.73 L233.60,57.74 L234.10,57.75 L234.60,57.76 L235.10,57.77 L235.60,57.79 L236.10,57.80 L236.60,57.81 L237.10,57.83 L237.60,57.84 L238.10,57.86 L238.60,57.87 L239.10,57.89 L239.60,57.91 L240.10,57.92 L240.60,57.94 L241.10,57.96 L241.60,57.98 L242.10,57.99 L242.60,58.01 L243.10,58.03 L243.60,58.05 L244.10,58.07 L244.60,58.08 L245.10,58.10 L245.60,58.12 L246.10,58.14 L246.60,58.15 L247.10,58.17 L247.60,58.19 L248.10,58.20 L248.60,58.22 L249.10,58.24 L249.60,58.26 L250.10,58.28 L250.60,58.30 L251.10,58.32 L251.60,58.34 L252.10,58.36 L252.60,58.38 L253.10,58.41 L253.60,58.43 L254.10,58.45 L254.60,58.48 L255.10,58.50 L255.60,58.52 L256.10,58.55 L256.60,58.57 L257.10,58.60 L257.60,58.62 L258.10,58.65 L258.60,58.67 L259.10,58.69 L259.60,58.72 L260.10,58.74 L260.60,58.76 L261.10,58.78 L261.60,58.81 L262.10,58.83 L262.60,58.85 L263.10,58.87 L263.60,58.88 L264.10,58.90 L264.60,58.92 L265.10,58.93 L265.60,58.95 L266.10,58.96 L266.60,58.97 L267.10,58.98 L267.60,58.99 L268.10,59.00 L268.60,59.01 L269.10,59.02 L269.60,59.02 L270.10,59.03 L270.60,59.04 L271.10,59.05 L271.60,59.05 L272.10,59.06 L272.60,59.07 L273.10,59.07 L273.60,59.08 L274.10,59.09 L274.60,59.09 L275.10,59.10 L275.60,59.11 L276.10,59.11 L276.60,59.12 L277.10,59.13 L277.60,59.13 L278.10,59.14 L278.60,59.14 L279.10,59.15 L279.60,59.15 L280.10,59.16 L280.60,59.16 L281.10,59.17 L281.60,59.17 L282.10,59.17 L282.60,59.18 L283.10,59.18 L283.60,59.18 L284.10,59.19 L284.60,59.19 L285.10,59.19 L285.60,59.19 L286.10,59.19 L286.60,59.20 L287.10,59.20 L287.60,59.20 L288.10,59.20 L288.60,59.20 L289.10,59.20 L289.60,59.20 L290.10,59.20 L290.60,59.20 L291.10,59.19 L291.60,59.19 L292.10,59.18 L292.60,59.18 L293.10,59.17 L293.60,59.16 L294.10,59.16 L294.60,59.15 L295.10,59.14 L295.60,59.13 L296.10,59.12 L296.60,59.11 L297.10,59.10 L297.60,59.09 L298.10,59.08 L298.60,59.07 L299.10,59.06 L299.60,59.05 L300.10,59.04 L300.60,59.03 L301.10,59.02 L301.60,59.01 L302.10,59.00 L302.60,58.99 L303.10,58.98 L303.60,58.97 L304.10,58.96 L304.60,58.95 L305.10,58.94 L305.60,58.93 L306.10,58.93 L306.60,58.92 L307.10,58.92 L307.60,58.91 L308.10,58.91 L308.60,58.90 L309.10,58.90 L309.60,58.90 L310.10,58.90 L310.60,58.90 L311.10,58.90 L311.60,58.90 L312.10,58.90 L312.60,58.90 L313.10,58.90 L313.60,58.90 L314.10,58.90 L314.60,58.90 L315.10,58.90 L315.60,58.90 L316.10,58.90 L316.60,58.90 L317.10,58.90 L317.60,58.90 L318.10,58.90 L318.60,58.90 L319.10,58.90 L319.60,58.90 L320.10,58.90 L320.60,58.90 L321.10,58.90 L321.60,58.90 L322.10,58.90 L322.60,58.90 L323.10,58.90 L323.60,58.90 L324.10,58.90 L324.60,58.90 L325.10,58.90 L325.60,58.90 L326.10,58.90 L326.60,58.90 L327.10,58.90 L327.60,58.90 L328.10,58.90 L328.60,58.90 L329.10,58.90 L329.60,58.90 L330.10,58.90 L330.60,58.90 L331.10,58.90 L331.60,58.90 L332.10,58.90 L332.60,58.90 L333.10,58.90 L333.60,58.90 L334.10,58.90 L334.60,58.90 L335.10,58.90 L335.60,58.90 L336.10,58.90 L336.60,58.90 L337.10,58.90 L337.60,58.90 L338.10,58.90 L338.60,58.90 L339.10,58.90 L339.60,58.90 L340.10,58.90 L340.60,58.90 L341.10,58.90 L341.60,58.90 L342.10,58.90 L342.60,58.90 L343.10,58.90 L343.60,58.90 L344.10,58.90 L344.60,58.90 L345.10,58.90 L345.60,58.90 L346.10,58.90 L346.60,58.90 L347.10,58.90 L347.60,58.90 L348.10,58.90 L348.60,58.90 L349.10,58.90 L349.60,58.90 L350.10,58.90 L350.60,58.90 L351.10,58.90 L351.60,58.90 L352.10,58.90 L352.60,58.90 L353.10,58.90 L353.60,58.90 L354.10,58.90 L354.60,58.90 L355.10,58.90 L355.60,58.90 L356.10,58.90 L356.60,58.90 L357.10,58.90 L357.60,58.90 L358.10,58.90 L358.60,58.90 L359.10,58.90 L359.60,58.90 L360.10,58.90 L360.60,58.90 L361.10,58.90 L361.60,58.90 L362.10,58.90 L362.60,58.90 L363.10,58.90 L363.60,58.90 L364.10,58.90 L364.60,58.90 L365.10,58.90 L365.60,58.90 L366.10,58.90 L366.60,58.90 L367.10,58.90 L367.60,58.90 L368.10,58.90 L368.20,58.90" stroke="#00eeff" stroke-width="2.0" stroke-dasharray="7.9 1.55 1.75 1.56" stroke-dashoffset="11.55"/>
<path d="M52.60,8.00 L53.10,9.45 L53.60,10.89 L54.10,12.32 L54.60,13.74 L55.10,15.16 L55.60,16.56 L56.10,17.95 L56.60,19.32 L57.10,20.69 L57.60,22.06 L58.10,23.44 L58.60,24.84 L59.10,26.26 L59.60,27.70 L60.10,29.14 L60.60,30.57 L61.10,31.99 L61.60,33.40 L62.10,34.77 L62.60,36.17 L63.10,37.55 L63.60,38.86 L64.10,40.02 L64.60,41.08 L65.10,42.02 L65.60,42.79 L66.10,43.48 L66.60,44.10 L67.10,44.63 L67.60,45.08 L68.10,45.49 L68.60,45.86 L69.10,46.18 L69.60,46.44 L70.10,46.63 L70.60,46.80 L71.10,46.93 L71.60,47.00 L72.10,46.95 L72.60,46.77 L73.10,46.52 L73.60,46.24 L74.10,45.89 L74.60,45.43 L75.10,44.92 L75.60,44.39 L76.10,43.82 L76.60,43.19 L77.10,42.50 L77.60,41.74 L78.10,40.81 L78.60,39.75 L79.10,38.65 L79.60,37.62 L80.10,36.74 L80.60,35.99 L81.10,35.31 L81.60,34.66 L82.10,34.00 L82.60,33.31 L83.10,32.60 L83.60,31.92 L84.10,31.27 L84.60,30.70 L85.10,30.18 L85.60,29.67 L86.10,29.22 L86.60,28.83 L87.10,28.55 L87.60,28.31 L88.10,28.08 L88.60,27.88 L89.10,27.72 L89.60,27.63 L90.10,27.60 L90.60,27.64 L91.10,27.73 L91.60,27.87 L92.10,28.03 L92.60,28.23 L93.10,28.45 L93.60,28.67 L94.10,28.90 L94.60,29.13 L95.10,29.34 L95.60,29.57 L96.10,29.84 L96.60,30.12 L97.10,30.41 L97.60,30.71 L98.10,31.01 L98.60,31.30 L99.10,31.57 L99.60,31.82 L100.10,32.04 L100.60,32.25 L101.10,32.45 L101.60,32.64 L102.10,32.84 L102.60,33.03 L103.10,33.21 L103.60,33.39 L104.10,33.57 L104.60,33.74 L105.10,33.90 L105.60,34.06 L106.10,34.22 L106.60,34.37 L107.10,34.51 L107.60,34.64 L108.10,34.77 L108.60,34.90 L109.10,35.01 L109.60,35.12 L110.10,35.22 L110.60,35.32 L111.10,35.42 L111.60,35.52 L112.10,35.62 L112.60,35.72 L113.10,35.82 L113.60,35.91 L114.10,36.00 L114.60,36.08 L115.10,36.15 L115.60,36.22 L116.10,36.28 L116.60,36.32 L117.10,36.36 L117.60,36.39 L118.10,36.40 L118.60,36.40 L119.10,36.38 L119.60,36.34 L120.10,36.29 L120.60,36.23 L121.10,36.15 L121.60,36.06 L122.10,35.96 L122.60,35.85 L123.10,35.73 L123.60,35.61 L124.10,35.48 L124.60,35.35 L125.10,35.22 L125.60,35.08 L126.10,34.94 L126.60,34.81 L127.10,34.67 L127.60,34.54 L128.10,34.42 L128.60,34.30 L129.10,34.18 L129.60,34.08 L130.10,33.98 L130.60,33.88 L131.10,33.78 L131.60,33.67 L132.10,33.56 L132.60,33.45 L133.10,33.34 L133.60,33.22 L134.10,33.11 L134.60,33.00 L135.10,32.90 L135.60,32.80 L136.10,32.70 L136.60,32.61 L137.10,32.54 L137.60,32.47 L138.10,32.41 L138.60,32.36 L139.10,32.33 L139.60,32.31 L140.10,32.30 L140.60,32.31 L141.10,32.33 L141.60,32.36 L142.10,32.40 L142.60,32.45 L143.10,32.51 L143.60,32.57 L144.10,32.64 L144.60,32.71 L145.10,32.79 L145.60,32.87 L146.10,32.95 L146.60,33.03 L147.10,33.11 L147.60,33.18 L148.10,33.26 L148.60,33.33 L149.10,33.40 L149.60,33.46 L150.10,33.51 L150.60,33.56 L151.10,33.62 L151.60,33.67 L152.10,33.73 L152.60,33.78 L153.10,33.84 L153.60,33.90 L154.10,33.96 L154.60,34.02 L155.10,34.07 L155.60,34.13 L156.10,34.19 L156.60,34.24 L157.10,34.30 L157.60,34.35 L158.10,34.40 L158.60,34.45 L159.10,34.50 L159.60,34.54 L160.10,34.58 L160.60,34.62 L161.10,34.66 L161.60,34.69 L162.10,34.72 L162.60,34.74 L163.10,34.76 L163.60,34.78 L164.10,34.79 L164.60,34.80 L165.10,34.80 L165.60,34.80 L166.10,34.79 L166.60,34.78 L167.10,34.76 L167.60,34.74 L168.10,34.72 L168.60,34.69 L169.10,34.66 L169.60,34.63 L170.10,34.59 L170.60,34.56 L171.10,34.52 L171.60,34.48 L172.10,34.44 L172.60,34.39 L173.10,34.35 L173.60,34.30 L174.10,34.26 L174.60,34.21 L175.10,34.17 L175.60,34.13 L176.10,34.08 L176.60,34.04 L177.10,34.00 L177.60,33.96 L178.10,33.92 L178.60,33.89 L179.10,33.85 L179.60,33.82 L180.10,33.79 L180.60,33.77 L181.10,33.74 L181.60,33.71 L182.10,33.68 L182.60,33.64 L183.10,33.61 L183.60,33.58 L184.10,33.55 L184.60,33.53 L185.10,33.50 L185.60,33.48 L186.10,33.45 L186.60,33.44 L187.10,33.42 L187.60,33.41 L188.10,33.40 L188.60,33.40 L189.10,33.40 L189.60,33.41 L190.10,33.41 L190.60,33.42 L191.10,33.43 L191.60,33.44 L192.10,33.46 L192.60,33.48 L193.10,33.49 L193.60,33.51 L194.10,33.54 L194.60,33.56 L195.10,33.58 L195.60,33.61 L196.10,33.64 L196.60,33.66 L197.10,33.69 L197.60,33.72 L198.10,33.75 L198.60,33.78 L199.10,33.81 L199.60,33.84 L200.10,33.87 L200.60,33.90 L201.10,33.93 L201.60,33.96 L202.10,33.99 L202.60,34.02 L203.10,34.04 L203.60,34.07 L204.10,34.10 L204.60,34.12 L205.10,34.15 L205.60,34.17 L206.10,34.19 L206.60,34.21 L207.10,34.23 L207.60,34.24 L208.10,34.26 L208.60,34.27 L209.10,34.28 L209.60,34.29 L210.10,34.30 L210.60,34.30 L211.10,34.30 L211.60,34.30 L212.10,34.30 L212.60,34.29 L213.10,34.29 L213.60,34.28 L214.10,34.27 L214.60,34.26 L215.10,34.25 L215.60,34.24 L216.10,34.23 L216.60,34.21 L217.10,34.20 L217.60,34.18 L218.10,34.17 L218.60,34.15 L219.10,34.13 L219.60,34.12 L220.10,34.10 L220.60,34.08 L221.10,34.06 L221.60,34.05 L222.10,34.03 L222.60,34.01 L223.10,33.99 L223.60,33.98 L224.10,33.96 L224.60,33.94 L225.10,33.93 L225.60,33.91 L226.10,33.90 L226.60,33.88 L227.10,33.87 L227.60,33.86 L228.10,33.85 L228.60,33.84 L229.10,33.83 L229.60,33.82 L230.10,33.81 L230.60,33.81 L231.10,33.80 L231.60,33.80 L232.10,33.80 L232.60,33.80 L233.10,33.80 L233.60,33.80 L234.10,33.80 L234.60,33.80 L235.10,33.80 L235.60,33.80 L236.10,33.80 L236.60,33.80 L237.10,33.80 L237.60,33.80 L238.10,33.80 L238.60,33.80 L239.10,33.80 L239.60,33.80 L240.10,33.80 L240.60,33.80 L241.10,33.80 L241.60,33.80 L242.10,33.80 L242.60,33.80 L243.10,33.80 L243.60,33.80 L244.10,33.80 L244.60,33.80 L245.10,33.80 L245.60,33.80 L246.10,33.80 L246.60,33.80 L247.10,33.80 L247.60,33.80 L248.10,33.80 L248.60,33.81 L249.10,33.81 L249.60,33.81 L250.10,33.81 L250.60,33.81 L251.10,33.81 L251.60,33.81 L252.10,33.81 L252.60,33.81 L253.10,33.81 L253.60,33.81 L254.10,33.81 L254.60,33.81 L255.10,33.81 L255.60,33.81 L256.10,33.81 L256.60,33.81 L257.10,33.81 L257.60,33.81 L258.10,33.81 L258.60,33.81 L259.10,33.81 L259.60,33.81 L260.10,33.81 L260.60,33.81 L261.10,33.81 L261.60,33.81 L262.10,33.82 L262.60,33.82 L263.10,33.82 L263.60,33.82 L264.10,33.82 L264.60,33.82 L265.10,33.82 L265.60,33.82 L266.10,33.82 L266.60,33.82 L267.10,33.82 L267.60,33.82 L268.10,33.82 L268.60,33.82 L269.10,33.82 L269.60,33.82 L270.10,33.82 L270.60,33.82 L271.10,33.82 L271.60,33.82 L272.10,33.82 L272.60,33.83 L273.10,33.83 L273.60,33.83 L274.10,33.83 L274.60,33.83 L275.10,33.83 L275.60,33.83 L276.10,33.83 L276.60,33.83 L277.10,33.83 L277.60,33.83 L278.10,33.83 L278.60,33.83 L279.10,33.83 L279.60,33.83 L280.10,33.83 L280.60,33.83 L281.10,33.83 L281.60,33.83 L282.10,33.83 L282.60,33.83 L283.10,33.84 L283.60,33.84 L284.10,33.84 L284.60,33.84 L285.10,33.84 L285.60,33.84 L286.10,33.84 L286.60,33.84 L287.10,33.84 L287.60,33.84 L288.10,33.84 L288.60,33.84 L289.10,33.84 L289.60,33.84 L290.10,33.84 L290.60,33.84 L291.10,33.84 L291.60,33.84 L292.10,33.84 L292.60,33.84 L293.10,33.84 L293.60,33.84 L294.10,33.85 L294.60,33.85 L295.10,33.85 L295.60,33.85 L296.10,33.85 L296.60,33.85 L297.10,33.85 L297.60,33.85 L298.10,33.85 L298.60,33.85 L299.10,33.85 L299.60,33.85 L300.10,33.85 L300.60,33.85 L301.10,33.85 L301.60,33.85 L302.10,33.85 L302.60,33.85 L303.10,33.85 L303.60,33.85 L304.10,33.85 L304.60,33.85 L305.10,33.85 L305.60,33.85 L306.10,33.85 L306.60,33.85 L307.10,33.86 L307.60,33.86 L308.10,33.86 L308.60,33.86 L309.10,33.86 L309.60,33.86 L310.10,33.86 L310.60,33.86 L311.10,33.86 L311.60,33.86 L312.10,33.86 L312.60,33.86 L313.10,33.86 L313.60,33.86 L314.10,33.86 L314.60,33.86 L315.10,33.86 L315.60,33.86 L316.10,33.86 L316.60,33.86 L317.10,33.86 L317.60,33.86 L318.10,33.86 L318.60,33.86 L319.10,33.86 L319.60,33.86 L320.10,33.86 L320.60,33.87 L321.10,33.87 L321.60,33.87 L322.10,33.87 L322.60,33.87 L323.10,33.87 L323.60,33.87 L324.10,33.87 L324.60,33.87 L325.10,33.87 L325.60,33.87 L326.10,33.87 L326.60,33.87 L327.10,33.87 L327.60,33.87 L328.10,33.87 L328.60,33.87 L329.10,33.87 L329.60,33.87 L330.10,33.87 L330.60,33.87 L331.10,33.87 L331.60,33.87 L332.10,33.87 L332.60,33.87 L333.10,33.87 L333.60,33.87 L334.10,33.88 L334.60,33.88 L335.10,33.88 L335.60,33.88 L336.10,33.88 L336.60,33.88 L337.10,33.88 L337.60,33.88 L338.10,33.88 L338.60,33.88 L339.10,33.88 L339.60,33.88 L340.10,33.88 L340.60,33.88 L341.10,33.88 L341.60,33.88 L342.10,33.88 L342.60,33.88 L343.10,33.88 L343.60,33.88 L344.10,33.88 L344.60,33.88 L345.10,33.88 L345.60,33.88 L346.10,33.88 L346.60,33.88 L347.10,33.88 L347.60,33.88 L348.10,33.89 L348.60,33.89 L349.10,33.89 L349.60,33.89 L350.10,33.89 L350.60,33.89 L351.10,33.89 L351.60,33.89 L352.10,33.89 L352.60,33.89 L353.10,33.89 L353.60,33.89 L354.10,33.89 L354.60,33.89 L355.10,33.89 L355.60,33.89 L356.10,33.89 L356.60,33.89 L357.10,33.89 L357.60,33.89 L358.10,33.89 L358.60,33.89 L359.10,33.89 L359.60,33.89 L360.10,33.89 L360.60,33.89 L361.10,33.89 L361.60,33.90 L362.10,33.90 L362.60,33.90 L363.10,33.90 L363.60,33.90 L364.10,33.90 L364.60,33.90 L365.10,33.90 L365.60,33.90 L366.10,33.90 L366.60,33.90 L367.10,33.90 L367.60,33.90 L368.10,33.90 L368.20,33.90" stroke="#0000ee" stroke-width="2.0" stroke-dasharray="7.9 1.75 1.5 1.6 1.5 1.9" stroke-dashoffset="0.85"/>
<path d="M52.60,8.00 L53.10,9.34 L53.60,10.67 L54.10,12.00 L54.60,13.33 L55.10,14.65 L55.60,15.96 L56.10,17.28 L56.60,18.60 L57.10,19.91 L57.60,21.21 L58.10,22.49 L58.60,23.75 L59.10,25.03 L59.60,26.28 L60.10,27.40 L60.60,28.47 L61.10,29.40 L61.60,29.59 L62.10,29.44 L62.60,29.18 L63.10,28.84 L63.60,28.22 L64.10,27.37 L64.60,26.43 L65.10,25.53 L65.60,24.63 L66.10,23.68 L66.60,22.70 L67.10,21.62 L67.60,20.58 L68.10,19.73 L68.60,18.95 L69.10,18.30 L69.60,17.82 L70.10,17.44 L70.60,17.14 L71.10,16.98 L71.60,16.88 L72.10,16.81 L72.60,16.82 L73.10,17.04 L73.60,17.37 L74.10,17.74 L74.60,18.24 L75.10,18.74 L75.60,19.11 L76.10,19.44 L76.60,19.74 L77.10,20.02 L77.60,20.28 L78.10,20.53 L78.60,20.77 L79.10,21.00 L79.60,21.23 L80.10,21.43 L80.60,21.62 L81.10,21.77 L81.60,21.90 L82.10,22.03 L82.60,22.16 L83.10,22.28 L83.60,22.39 L84.10,22.49 L84.60,22.57 L85.10,22.64 L85.60,22.68 L86.10,22.70 L86.60,22.68 L87.10,22.60 L87.60,22.47 L88.10,22.31 L88.60,22.12 L89.10,21.91 L89.60,21.71 L90.10,21.51 L90.60,21.32 L91.10,21.17 L91.60,21.02 L92.10,20.86 L92.60,20.69 L93.10,20.52 L93.60,20.35 L94.10,20.20 L94.60,20.06 L95.10,19.95 L95.60,19.87 L96.10,19.81 L96.60,19.80 L97.10,19.81 L97.60,19.85 L98.10,19.90 L98.60,19.96 L99.10,20.04 L99.60,20.13 L100.10,20.22 L100.60,20.33 L101.10,20.43 L101.60,20.54 L102.10,20.64 L102.60,20.75 L103.10,20.84 L103.60,20.93 L104.10,21.02 L104.60,21.10 L105.10,21.19 L105.60,21.28 L106.10,21.38 L106.60,21.48 L107.10,21.58 L107.60,21.68 L108.10,21.77 L108.60,21.86 L109.10,21.95 L109.60,22.02 L110.10,22.08 L110.60,22.13 L111.10,22.17 L111.60,22.19 L112.10,22.20 L112.60,22.19 L113.10,22.15 L113.60,22.10 L114.10,22.04 L114.60,21.97 L115.10,21.88 L115.60,21.79 L116.10,21.69 L116.60,21.58 L117.10,21.48 L117.60,21.37 L118.10,21.27 L118.60,21.18 L119.10,21.08 L119.60,21.00 L120.10,20.93 L120.60,20.87 L121.10,20.83 L121.60,20.81 L122.10,20.80 L122.60,20.80 L123.10,20.81 L123.60,20.83 L124.10,20.84 L124.60,20.86 L125.10,20.89 L125.60,20.91 L126.10,20.94 L126.60,20.97 L127.10,21.00 L127.60,21.04 L128.10,21.07 L128.60,21.11 L129.10,21.14 L129.60,21.18 L130.10,21.21 L130.60,21.24 L131.10,21.27 L131.60,21.30 L132.10,21.32 L132.60,21.35 L133.10,21.37 L133.60,21.38 L134.10,21.39 L134.60,21.40 L135.10,21.40 L135.60,21.40 L136.10,21.40 L136.60,21.39 L137.10,21.39 L137.60,21.38 L138.10,21.38 L138.60,21.37 L139.10,21.36 L139.60,21.36 L140.10,21.35 L140.60,21.34 L141.10,21.33 L141.60,21.32 L142.10,21.31 L142.60,21.30 L143.10,21.29 L143.60,21.28 L144.10,21.27 L144.60,21.26 L145.10,21.25 L145.60,21.24 L146.10,21.23 L146.60,21.23 L147.10,21.22 L147.60,21.21 L148.10,21.21 L148.60,21.20 L149.10,21.20 L149.60,21.20 L150.10,21.20 L150.60,21.20 L151.10,21.20 L151.60,21.20 L152.10,21.20 L152.60,21.20 L153.10,21.20 L153.60,21.20 L154.10,21.20 L154.60,21.20 L155.10,21.20 L155.60,21.20 L156.10,21.20 L156.60,21.20 L157.10,21.20 L157.60,21.20 L158.10,21.20 L158.60,21.20 L159.10,21.20 L159.60,21.20 L160.10,21.20 L160.60,21.20 L161.10,21.20 L161.60,21.20 L162.10,21.20 L162.60,21.20 L163.10,21.20 L163.60,21.20 L164.10,21.20 L164.60,21.20 L165.10,21.20 L165.60,21.20 L166.10,21.20 L166.60,21.20 L167.10,21.20 L167.60,21.20 L168.10,21.20 L168.60,21.20 L169.10,21.20 L169.60,21.21 L170.10,21.21 L170.60,21.21 L171.10,21.21 L171.60,21.21 L172.10,21.21 L172.60,21.21 L173.10,21.21 L173.60,21.21 L174.10,21.21 L174.60,21.21 L175.10,21.21 L175.60,21.21 L176.10,21.21 L176.60,21.21 L177.10,21.21 L177.60,21.21 L178.10,21.21 L178.60,21.21 L179.10,21.21 L179.60,21.21 L180.10,21.21 L180.60,21.21 L181.10,21.21 L181.60,21.21 L182.10,21.21 L182.60,21.21 L183.10,21.21 L183.60,21.21 L184.10,21.21 L184.60,21.21 L185.10,21.21 L185.60,21.21 L186.10,21.21 L186.60,21.22 L187.10,21.22 L187.60,21.22 L188.10,21.22 L188.60,21.22 L189.10,21.22 L189.60,21.22 L190.10,21.22 L190.60,21.22 L191.10,21.22 L191.60,21.22 L192.10,21.22 L192.60,21.22 L193.10,21.22 L193.60,21.22 L194.10,21.22 L194.60,21.22 L195.10,21.22 L195.60,21.22 L196.10,21.22 L196.60,21.22 L197.10,21.22 L197.60,21.22 L198.10,21.22 L198.60,21.22 L199.10,21.22 L199.60,21.22 L200.10,21.23 L200.60,21.23 L201.10,21.23 L201.60,21.23 L202.10,21.23 L202.60,21.23 L203.10,21.23 L203.60,21.23 L204.10,21.23 L204.60,21.23 L205.10,21.23 L205.60,21.23 L206.10,21.23 L206.60,21.23 L207.10,21.23 L207.60,21.23 L208.10,21.23 L208.60,21.23 L209.10,21.23 L209.60,21.23 L210.10,21.23 L210.60,21.23 L211.10,21.23 L211.60,21.23 L212.10,21.23 L212.60,21.23 L213.10,21.23 L213.60,21.23 L214.10,21.24 L214.60,21.24 L215.10,21.24 L215.60,21.24 L216.10,21.24 L216.60,21.24 L217.10,21.24 L217.60,21.24 L218.10,21.24 L218.60,21.24 L219.10,21.24 L219.60,21.24 L220.10,21.24 L220.60,21.24 L221.10,21.24 L221.60,21.24 L222.10,21.24 L222.60,21.24 L223.10,21.24 L223.60,21.24 L224.10,21.24 L224.60,21.24 L225.10,21.24 L225.60,21.24 L226.10,21.24 L226.60,21.24 L227.10,21.24 L227.60,21.24 L228.10,21.24 L228.60,21.24 L229.10,21.24 L229.60,21.24 L230.10,21.24 L230.60,21.25 L231.10,21.25 L231.60,21.25 L232.10,21.25 L232.60,21.25 L233.10,21.25 L233.60,21.25 L234.10,21.25 L234.60,21.25 L235.10,21.25 L235.60,21.25 L236.10,21.25 L236.60,21.25 L237.10,21.25 L237.60,21.25 L238.10,21.25 L238.60,21.25 L239.10,21.25 L239.60,21.25 L240.10,21.25 L240.60,21.25 L241.10,21.25 L241.60,21.25 L242.10,21.25 L242.60,21.25 L243.10,21.25 L243.60,21.25 L244.10,21.25 L244.60,21.25 L245.10,21.25 L245.60,21.25 L246.10,21.25 L246.60,21.25 L247.10,21.25 L247.60,21.25 L248.10,21.25 L248.60,21.25 L249.10,21.25 L249.60,21.25 L250.10,21.25 L250.60,21.25 L251.10,21.25 L251.60,21.25 L252.10,21.25 L252.60,21.25 L253.10,21.25 L253.60,21.25 L254.10,21.25 L254.60,21.25 L255.10,21.25 L255.60,21.25 L256.10,21.25 L256.60,21.25 L257.10,21.25 L257.60,21.25 L258.10,21.25 L258.60,21.25 L259.10,21.25 L259.60,21.25 L260.10,21.25 L260.60,21.25 L261.10,21.25 L261.60,21.25 L262.10,21.25 L262.60,21.25 L263.10,21.25 L263.60,21.25 L264.10,21.25 L264.60,21.25 L265.10,21.25 L265.60,21.25 L266.10,21.25 L266.60,21.25 L267.10,21.25 L267.60,21.25 L268.10,21.25 L268.60,21.25 L269.10,21.25 L269.60,21.25 L270.10,21.25 L270.60,21.25 L271.10,21.25 L271.60,21.25 L272.10,21.25 L272.60,21.25 L273.10,21.25 L273.60,21.25 L274.10,21.25 L274.60,21.25 L275.10,21.25 L275.60,21.25 L276.10,21.25 L276.60,21.25 L277.10,21.25 L277.60,21.25 L278.10,21.25 L278.60,21.25 L279.10,21.25 L279.60,21.25 L280.10,21.25 L280.60,21.25 L281.10,21.25 L281.60,21.25 L282.10,21.25 L282.60,21.25 L283.10,21.25 L283.60,21.25 L284.10,21.25 L284.60,21.25 L285.10,21.25 L285.60,21.25 L286.10,21.25 L286.60,21.25 L287.10,21.25 L287.60,21.25 L288.10,21.25 L288.60,21.25 L289.10,21.25 L289.60,21.25 L290.10,21.25 L290.60,21.25 L291.10,21.25 L291.60,21.25 L292.10,21.25 L292.60,21.25 L293.10,21.25 L293.60,21.25 L294.10,21.25 L294.60,21.25 L295.10,21.25 L295.60,21.25 L296.10,21.25 L296.60,21.25 L297.10,21.25 L297.60,21.25 L298.10,21.25 L298.60,21.25 L299.10,21.25 L299.60,21.25 L300.10,21.25 L300.60,21.25 L301.10,21.25 L301.60,21.25 L302.10,21.25 L302.60,21.25 L303.10,21.25 L303.60,21.25 L304.10,21.25 L304.60,21.25 L305.10,21.25 L305.60,21.25 L306.10,21.25 L306.60,21.25 L307.10,21.25 L307.60,21.25 L308.10,21.25 L308.60,21.25 L309.10,21.25 L309.60,21.25 L310.10,21.25 L310.60,21.25 L311.10,21.25 L311.60,21.25 L312.10,21.25 L312.60,21.25 L313.10,21.25 L313.60,21.25 L314.10,21.25 L314.60,21.25 L315.10,21.25 L315.60,21.25 L316.10,21.25 L316.60,21.25 L317.10,21.25 L317.60,21.25 L318.10,21.25 L318.60,21.25 L319.10,21.25 L319.60,21.25 L320.10,21.25 L320.60,21.25 L321.10,21.25 L321.60,21.25 L322.10,21.25 L322.60,21.25 L323.10,21.25 L323.60,21.25 L324.10,21.25 L324.60,21.25 L325.10,21.25 L325.60,21.25 L326.10,21.25 L326.60,21.25 L327.10,21.25 L327.60,21.25 L328.10,21.25 L328.60,21.25 L329.10,21.25 L329.60,21.25 L330.10,21.25 L330.60,21.25 L331.10,21.25 L331.60,21.25 L332.10,21.25 L332.60,21.25 L333.10,21.25 L333.60,21.25 L334.10,21.25 L334.60,21.25 L335.10,21.25 L335.60,21.25 L336.10,21.25 L336.60,21.25 L337.10,21.25 L337.60,21.25 L338.10,21.25 L338.60,21.25 L339.10,21.25 L339.60,21.25 L340.10,21.25 L340.60,21.25 L341.10,21.25 L341.60,21.25 L342.10,21.25 L342.60,21.25 L343.10,21.25 L343.60,21.25 L344.10,21.25 L344.60,21.25 L345.10,21.25 L345.60,21.25 L346.10,21.25 L346.60,21.25 L347.10,21.25 L347.60,21.25 L348.10,21.25 L348.60,21.25 L349.10,21.25 L349.60,21.25 L350.10,21.25 L350.60,21.25 L351.10,21.25 L351.60,21.25 L352.10,21.25 L352.60,21.25 L353.10,21.25 L353.60,21.25 L354.10,21.25 L354.60,21.25 L355.10,21.25 L355.60,21.25 L356.10,21.25 L356.60,21.25 L357.10,21.25 L357.60,21.25 L358.10,21.25 L358.60,21.25 L359.10,21.25 L359.60,21.25 L360.10,21.25 L360.60,21.25 L361.10,21.25 L361.60,21.25 L362.10,21.25 L362.60,21.25 L363.10,21.25 L363.60,21.25 L364.10,21.25 L364.60,21.25 L365.10,21.25 L365.60,21.25 L366.10,21.25 L366.60,21.25 L367.10,21.25 L367.60,21.25 L368.10,21.25 L368.20,21.25" stroke="#000000" stroke-width="1.9" stroke-dasharray="1.6 1.67" stroke-dashoffset="2.4699999999999998"/>
</g>
<g stroke="#000" stroke-width="1.3" fill="none"><line x1="52.60" y1="203.2" x2="52.60" y2="199.6"/><line x1="52.60" y1="8.2" x2="52.60" y2="11.799999999999999"/><line x1="72.33" y1="203.2" x2="72.33" y2="200.79999999999998"/><line x1="72.33" y1="8.2" x2="72.33" y2="10.6"/><line x1="92.05" y1="203.2" x2="92.05" y2="200.79999999999998"/><line x1="92.05" y1="8.2" x2="92.05" y2="10.6"/><line x1="111.78" y1="203.2" x2="111.78" y2="200.79999999999998"/><line x1="111.78" y1="8.2" x2="111.78" y2="10.6"/><line x1="131.50" y1="203.2" x2="131.50" y2="199.6"/><line x1="131.50" y1="8.2" x2="131.50" y2="11.799999999999999"/><line x1="151.22" y1="203.2" x2="151.22" y2="200.79999999999998"/><line x1="151.22" y1="8.2" x2="151.22" y2="10.6"/><line x1="170.95" y1="203.2" x2="170.95" y2="200.79999999999998"/><line x1="170.95" y1="8.2" x2="170.95" y2="10.6"/><line x1="190.68" y1="203.2" x2="190.68" y2="200.79999999999998"/><line x1="190.68" y1="8.2" x2="190.68" y2="10.6"/><line x1="210.40" y1="203.2" x2="210.40" y2="199.6"/><line x1="210.40" y1="8.2" x2="210.40" y2="11.799999999999999"/><line x1="230.12" y1="203.2" x2="230.12" y2="200.79999999999998"/><line x1="230.12" y1="8.2" x2="230.12" y2="10.6"/><line x1="249.85" y1="203.2" x2="249.85" y2="200.79999999999998"/><line x1="249.85" y1="8.2" x2="249.85" y2="10.6"/><line x1="269.58" y1="203.2" x2="269.58" y2="200.79999999999998"/><line x1="269.58" y1="8.2" x2="269.58" y2="10.6"/><line x1="289.30" y1="203.2" x2="289.30" y2="199.6"/><line x1="289.30" y1="8.2" x2="289.30" y2="11.799999999999999"/><line x1="309.03" y1="203.2" x2="309.03" y2="200.79999999999998"/><line x1="309.03" y1="8.2" x2="309.03" y2="10.6"/><line x1="328.75" y1="203.2" x2="328.75" y2="200.79999999999998"/><line x1="328.75" y1="8.2" x2="328.75" y2="10.6"/><line x1="348.48" y1="203.2" x2="348.48" y2="200.79999999999998"/><line x1="348.48" y1="8.2" x2="348.48" y2="10.6"/><line x1="368.20" y1="203.2" x2="368.20" y2="199.6"/><line x1="368.20" y1="8.2" x2="368.20" y2="11.799999999999999"/><line x1="52.6" y1="195.42" x2="55.0" y2="195.42"/><line x1="368.0" y1="195.42" x2="365.6" y2="195.42"/><line x1="52.6" y1="187.28" x2="55.0" y2="187.28"/><line x1="368.0" y1="187.28" x2="365.6" y2="187.28"/><line x1="52.6" y1="179.14" x2="55.0" y2="179.14"/><line x1="368.0" y1="179.14" x2="365.6" y2="179.14"/><line x1="52.6" y1="171.00" x2="56.2" y2="171.00"/><line x1="368.0" y1="171.00" x2="364.4" y2="171.00"/><line x1="52.6" y1="162.86" x2="55.0" y2="162.86"/><line x1="368.0" y1="162.86" x2="365.6" y2="162.86"/><line x1="52.6" y1="154.72" x2="55.0" y2="154.72"/><line x1="368.0" y1="154.72" x2="365.6" y2="154.72"/><line x1="52.6" y1="146.58" x2="55.0" y2="146.58"/><line x1="368.0" y1="146.58" x2="365.6" y2="146.58"/><line x1="52.6" y1="138.44" x2="55.0" y2="138.44"/><line x1="368.0" y1="138.44" x2="365.6" y2="138.44"/><line x1="52.6" y1="130.30" x2="56.2" y2="130.30"/><line x1="368.0" y1="130.30" x2="364.4" y2="130.30"/><line x1="52.6" y1="122.16" x2="55.0" y2="122.16"/><line x1="368.0" y1="122.16" x2="365.6" y2="122.16"/><line x1="52.6" y1="114.02" x2="55.0" y2="114.02"/><line x1="368.0" y1="114.02" x2="365.6" y2="114.02"/><line x1="52.6" y1="105.88" x2="55.0" y2="105.88"/><line x1="368.0" y1="105.88" x2="365.6" y2="105.88"/><line x1="52.6" y1="97.74" x2="55.0" y2="97.74"/><line x1="368.0" y1="97.74" x2="365.6" y2="97.74"/><line x1="52.6" y1="89.60" x2="56.2" y2="89.60"/><line x1="368.0" y1="89.60" x2="364.4" y2="89.60"/><line x1="52.6" y1="81.46" x2="55.0" y2="81.46"/><line x1="368.0" y1="81.46" x2="365.6" y2="81.46"/><line x1="52.6" y1="73.32" x2="55.0" y2="73.32"/><line x1="368.0" y1="73.32" x2="365.6" y2="73.32"/><line x1="52.6" y1="65.18" x2="55.0" y2="65.18"/><line x1="368.0" y1="65.18" x2="365.6" y2="65.18"/><line x1="52.6" y1="57.04" x2="55.0" y2="57.04"/><line x1="368.0" y1="57.04" x2="365.6" y2="57.04"/><line x1="52.6" y1="48.90" x2="56.2" y2="48.90"/><line x1="368.0" y1="48.90" x2="364.4" y2="48.90"/><line x1="52.6" y1="40.76" x2="55.0" y2="40.76"/><line x1="368.0" y1="40.76" x2="365.6" y2="40.76"/><line x1="52.6" y1="32.62" x2="55.0" y2="32.62"/><line x1="368.0" y1="32.62" x2="365.6" y2="32.62"/><line x1="52.6" y1="24.48" x2="55.0" y2="24.48"/><line x1="368.0" y1="24.48" x2="365.6" y2="24.48"/><line x1="52.6" y1="16.34" x2="55.0" y2="16.34"/><line x1="368.0" y1="16.34" x2="365.6" y2="16.34"/><line x1="52.6" y1="8.20" x2="56.2" y2="8.20"/><line x1="368.0" y1="8.20" x2="364.4" y2="8.20"/></g>
<rect x="52.6" y="8.2" width="315.4" height="195.0" fill="none" stroke="#000" stroke-width="1.75"/>
<g font-size="15.6" font-style="italic"><text x="50.2" y="13.50" text-anchor="end">0.25</text><text x="50.2" y="54.20" text-anchor="end">0.20</text><text x="50.2" y="94.90" text-anchor="end">0.15</text><text x="50.2" y="135.60" text-anchor="end">0.10</text><text x="50.2" y="176.30" text-anchor="end">0.05</text></g>
<g font-size="14.7" font-style="italic"><text x="52.30" y="219.2" text-anchor="middle">0</text><text x="131.20" y="219.2" text-anchor="middle">2</text><text x="210.10" y="219.2" text-anchor="middle">4</text><text x="289.00" y="219.2" text-anchor="middle">6</text><text x="367.90" y="219.2" text-anchor="middle">8</text></g>
<text font-size="14.2"><tspan x="185.4" y="241" font-style="italic">T</tspan><tspan x="197"> </tspan><tspan x="200.8" y="241">[Γ</tspan><tspan x="217" y="236.6" font-size="11.5">−</tspan><tspan x="224.8" y="236.3" font-size="10" font-style="italic">1</tspan><tspan x="229.6" y="241">]</tspan></text>
<text font-size="14.2" transform="translate(15.1,148.5) rotate(-90) scale(1,1.09)"><tspan x="0.6" y="0" font-style="italic">S</tspan><tspan x="9.0" y="0">(</tspan><tspan x="14.0" y="0" font-style="italic" font-size="15.2">T</tspan><tspan x="25.2" y="0">)</tspan><tspan x="30" y="0"> </tspan><tspan x="33.9" y="0">[</tspan><tspan x="39.5" y="0" font-style="italic">π</tspan><tspan x="49.4" y="-6.4" font-size="9.6" font-style="italic">2</tspan><tspan x="54.8" y="0">Γ</tspan><tspan x="63.9" y="0" font-style="italic">G</tspan><tspan x="74.4" y="2.66" font-size="9.6" font-style="italic">0</tspan><tspan x="75.5" y="-6.4" font-size="9.6" font-style="italic">2</tspan><tspan x="79.8" y="-0.7">]</tspan></text>
</svg></body></html>
